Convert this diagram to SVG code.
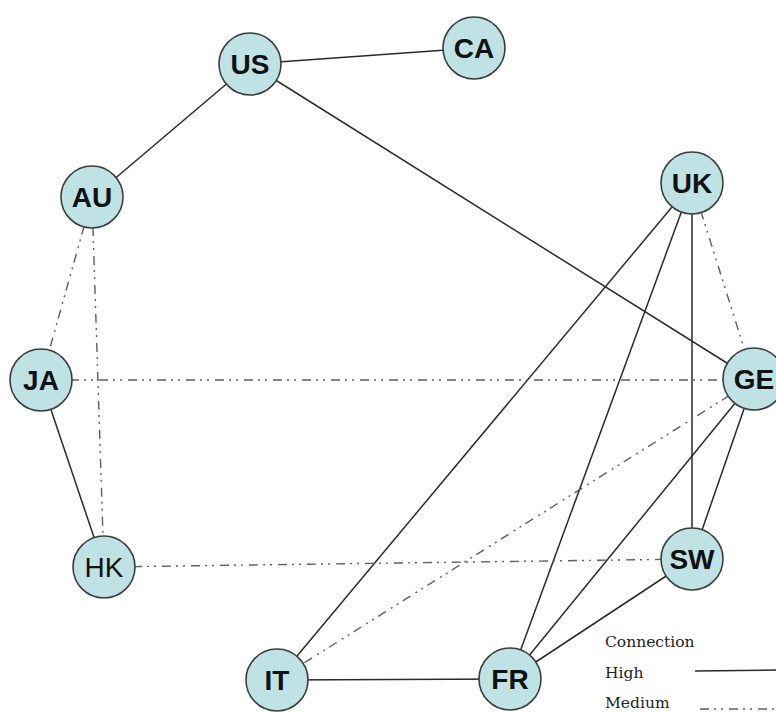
<svg xmlns="http://www.w3.org/2000/svg" width="776" height="713" viewBox="0 0 776 713">
<style>
.bg{fill:#ffffff}
.hi{stroke:#2a2a2a;stroke-width:1.5;fill:none}
.md{stroke:#5e5e5e;stroke-width:1.4;fill:none;stroke-dasharray:9 5 2 5 2 6}
.node circle{fill:#bfe2e4;stroke:#3c3c3c;stroke-width:1.6}
.node text{font-family:"Liberation Sans",Arial,sans-serif;font-size:28px;font-weight:bold;fill:#111111;text-anchor:middle}
.lg{font-family:"DejaVu Serif","Liberation Serif",serif;font-size:15.5px;fill:#222222}
</style>
<rect class="bg" x="0" y="0" width="776" height="713"/>
<g id="connectors">
<line class="hi" x1="250" y1="64" x2="474" y2="48"/>
<line class="hi" x1="250" y1="64" x2="92" y2="198"/>
<line class="hi" x1="250" y1="64" x2="754" y2="380"/>
<line class="hi" x1="41" y1="380" x2="104" y2="567"/>
<line class="hi" x1="692" y1="183" x2="277" y2="680"/>
<line class="hi" x1="692" y1="183" x2="510" y2="679"/>
<line class="hi" x1="692" y1="183" x2="692" y2="559"/>
<line class="hi" x1="754" y1="380" x2="510" y2="679"/>
<line class="hi" x1="754" y1="380" x2="692" y2="559"/>
<line class="hi" x1="277" y1="680" x2="510" y2="679"/>
<line class="hi" x1="692" y1="559" x2="510" y2="679"/>
<line class="md" x1="92" y1="198" x2="41" y2="380"/>
<line class="md" x1="92" y1="198" x2="104" y2="567"/>
<line class="md" x1="41" y1="380" x2="754" y2="380"/>
<line class="md" x1="104" y1="567" x2="692" y2="559"/>
<line class="md" x1="692" y1="183" x2="754" y2="380"/>
<line class="md" x1="754" y1="380" x2="277" y2="680"/>
</g>
<g id="node-US" class="node"><circle cx="250" cy="64" r="31"/><text x="250" y="74">US</text></g>
<g id="node-CA" class="node"><circle cx="474" cy="48" r="31"/><text x="474" y="58">CA</text></g>
<g id="node-AU" class="node"><circle cx="92" cy="197" r="31"/><text x="92" y="207">AU</text></g>
<g id="node-JA" class="node"><circle cx="41" cy="380" r="31"/><text x="41" y="390">JA</text></g>
<g id="node-HK" class="node"><circle cx="104" cy="567" r="31"/><text x="104" y="577" style="font-weight:normal">HK</text></g>
<g id="node-IT" class="node"><circle cx="277" cy="680" r="31"/><text x="277" y="690">IT</text></g>
<g id="node-FR" class="node"><circle cx="510" cy="679" r="31"/><text x="510" y="689">FR</text></g>
<g id="node-SW" class="node"><circle cx="692" cy="559" r="31"/><text x="692" y="569">SW</text></g>
<g id="node-GE" class="node"><circle cx="754" cy="379" r="31"/><text x="754" y="389">GE</text></g>
<g id="node-UK" class="node"><circle cx="692" cy="183" r="31"/><text x="692" y="193">UK</text></g>
<g id="legend">
<text class="lg" x="605" y="647">Connection</text>
<text class="lg" x="605" y="678">High</text>
<line class="hi" x1="695" y1="671" x2="776" y2="670"/>
<text class="lg" x="605" y="708">Medium</text>
<line class="md" x1="700" y1="709" x2="776" y2="709"/>
</g>
</svg>
